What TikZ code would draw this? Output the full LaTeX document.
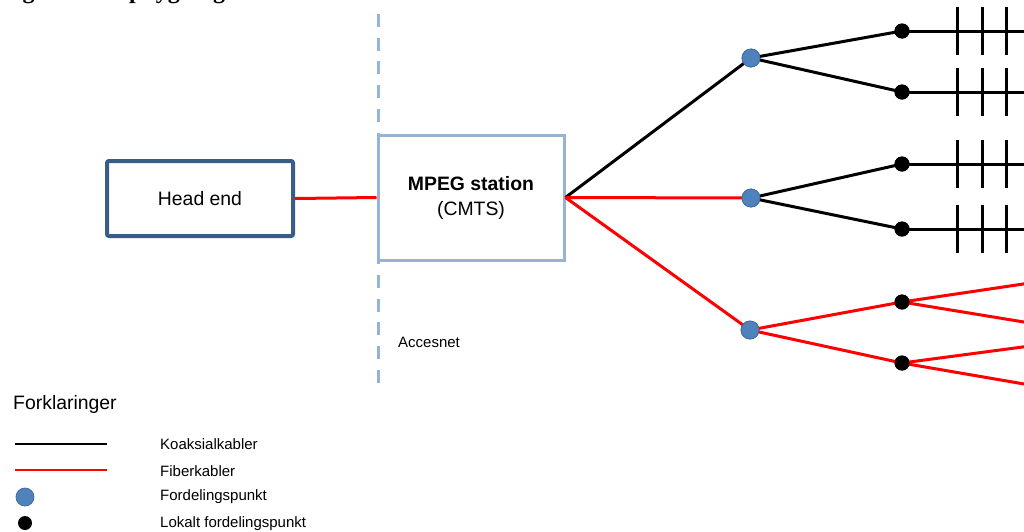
\documentclass[tikz,border=0pt]{standalone}
\usepackage{fontspec}
\setmainfont{Liberation Sans}
\newfontfamily\captionserif{Liberation Serif}
\definecolor{headblue}{HTML}{385D8A}
\definecolor{stationblue}{HTML}{95B3D7}
\definecolor{distblue}{HTML}{4F81BD}
\definecolor{fiberred}{HTML}{FF0000}
\begin{document}
\begin{tikzpicture}[x=1pt,y=-1pt,
  headbox/.style={draw=headblue, line width=4, rounded corners=2, fill=white,
    minimum width=186, minimum height=75, inner sep=0,
    font=\fontsize{19.4}{21}\selectfont},
  stationbox/.style={draw=stationblue, line width=3, fill=white,
    minimum width=186, minimum height=125, inner sep=0, align=center,
    font=\fontsize{19.4}{25}\selectfont},
  distpoint/.style={circle, fill=distblue, draw=distblue!85!black, line width=0.8,
    minimum size=18, inner sep=0},
  localpoint/.style={circle, fill=black, minimum size=15, inner sep=0},
  coax/.style={draw=black, line width=3},
  fiber/.style={draw=fiberred, line width=3},
  tick/.style={draw=black, line width=3},
  smalltext/.style={font=\fontsize{15}{17}\selectfont, inner sep=0},
]
\useasboundingbox (0,0) rectangle (1024,531);
\clip (0,0) rectangle (1024,531);

% figure caption, cut by the top edge
\node[anchor=base west, inner sep=0] (caption) at (1,-1.5)
  {\captionserif\bfseries\fontsize{24}{26}\selectfont Figur 3.1: Opbygning af kabel-tv-nettet};

% access network boundary
\draw[stationblue, line width=3, dash pattern=on 13 off 10.73] (378,14) -- (378,383);
\node[smalltext, anchor=west] (accesnet) at (398,342) {Accesnet};

% head end and station
\node[headbox] (head) at (200,198.5) {Head end};
\node[stationbox] (mpeg) at (471,197.5) {\textbf{MPEG station}\\(CMTS)};
\draw[fiber] (head.east) -- (mpeg.west);

% distribution points
\node[distpoint] (d1) at (751,58) {};
\node[distpoint] (d2) at (751,198) {};
\node[distpoint] (d3) at (750,330) {};

% local distribution points
\node[localpoint] (l1) at (902,31) {};
\node[localpoint] (l2) at (902,92) {};
\node[localpoint] (l3) at (902,164) {};
\node[localpoint] (l4) at (902,229) {};
\node[localpoint] (l5) at (902,302) {};
\node[localpoint] (l6) at (902,363) {};

% line ends beyond the right edge
\coordinate (e1) at (1030,31);
\coordinate (e2) at (1030,92);
\coordinate (e3) at (1030,164);
\coordinate (e4) at (1030,229);
\coordinate (f1) at (1030,283);
\coordinate (f2) at (1030,323);
\coordinate (f3) at (1030,346);
\coordinate (f4) at (1030,385);

% station to distribution points
\draw[coax] (mpeg.east) -- (d1.center);
\draw[fiber] (mpeg.east) -- (d2.center);
\draw[fiber] (mpeg.east) -- (d3.center);

% distribution points to local points
\draw[coax] (d1.center) -- (l1.center);
\draw[coax] (d1.center) -- (l2.center);
\draw[coax] (d2.center) -- (l3.center);
\draw[coax] (d2.center) -- (l4.center);
\draw[fiber] (d3.center) -- (l5.center);
\draw[fiber] (d3.center) -- (l6.center);

% local points outwards
\foreach \l/\e in {l1/e1, l2/e2, l3/e3, l4/e4}{
  \draw[coax] (\l.center) -- (\e);
  \foreach \tx in {957,982,1006}{
    \draw[tick] (\tx,0 |- \l.center) ++(0,-24) -- ++(0,48);
  }
}
\draw[fiber] (l5.center) -- (f1);
\draw[fiber] (l5.center) -- (f2);
\draw[fiber] (l6.center) -- (f3);
\draw[fiber] (l6.center) -- (f4);

% redraw dots on top of the lines
\foreach \n in {d1,d2,d3}{\node[distpoint] at (\n) {};}
\foreach \n in {l1,l2,l3,l4,l5,l6}{\node[localpoint] at (\n) {};}

% legend
\node[anchor=west, inner sep=0, font=\fontsize{19.4}{21}\selectfont] (legendtitle) at (13,404) {Forklaringer};
\coordinate (k0) at (15,444); \coordinate (k1) at (107,444);
\coordinate (r0) at (15,470); \coordinate (r1) at (107,470);
\draw[black, line width=2] (k0) -- (k1);
\draw[fiberred, line width=2] (r0) -- (r1);
\node[distpoint] (legdist) at (25,497) {};
\node[localpoint, minimum size=14] (leglocal) at (25,523) {};
\node[smalltext, anchor=west] (lt1) at (160,444) {Koaksialkabler};
\node[smalltext, anchor=west] (lt2) at (160,471) {Fiberkabler};
\node[smalltext, anchor=west] (lt3) at (160,497) {Fordelingspunkt};
\node[smalltext, anchor=west] (lt4) at (160,524) {Lokalt fordelingspunkt};
\end{tikzpicture}
\end{document}
